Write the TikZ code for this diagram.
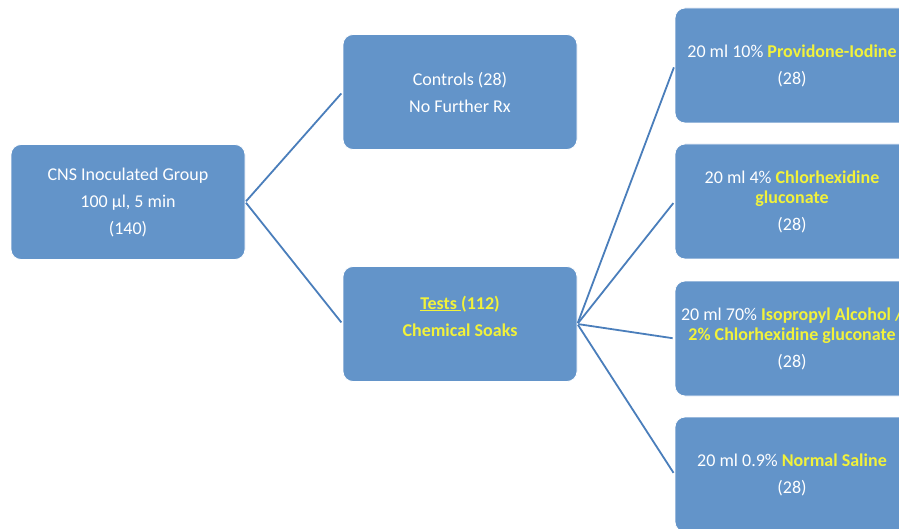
\documentclass[tikz,border=0pt]{standalone}
\usepackage{fontspec}
\setmainfont{Carlito}
\definecolor{boxblue}{HTML}{6394C9}
\definecolor{linkblue}{HTML}{4A7EBB}
\definecolor{hiyellow}{HTML}{F2F23A}
\begin{document}
\begin{tikzpicture}[x=1pt,y=-1pt,
  box/.style={rectangle, rounded corners=10pt, fill=boxblue, draw=white, line width=0.8pt,
    minimum width=234pt, minimum height=115pt, inner sep=0pt, align=center,
    text=white, font=\fontsize{18}{27}\selectfont},
  boxtext/.style={inner sep=0pt, align=center, text=white, font=\fontsize{18}{27}\selectfont},
  link/.style={draw=linkblue, line width=1.8pt, shorten >=2pt, shorten <=1pt}]
\clip (0,0) rectangle (899,529);
\fill[white] (0,0) rectangle (899,529);
\node[box] (root) at (128,202) {CNS Inoculated Group\\100 µl, 5 min\\(140)};
\node[box] (ctrl) at (460,92) {Controls (28)\\No Further Rx};
\node[box] (test) at (460,324) {};
\node[boxtext] (testlabel) at ([yshift=8pt]test.center) {\textcolor{hiyellow}{\textbf{\underline{Tests\ }(112)}}\\\textcolor{hiyellow}{\textbf{Chemical Soaks}}};
\node[box] (r1) at (792,65.5) {20 ml 10\% \textcolor{hiyellow}{\textbf{Providone-Iodine}}\\(28)};
\node[box] (r2) at (792,201.5) {20 ml 4\% \textcolor{hiyellow}{\textbf{Chlorhexidine}}\\[-7pt]\textcolor{hiyellow}{\textbf{gluconate}}\\(28)};
\node[box] (r3) at (792,338.5) {20 ml 70\% \textcolor{hiyellow}{\textbf{Isopropyl Alcohol /}}\\[-7pt]\textcolor{hiyellow}{\textbf{2\% Chlorhexidine gluconate}}\\(28)};
\node[box] (r4) at (792,474.5) {20 ml 0.9\% \textcolor{hiyellow}{\textbf{Normal Saline}}\\(28)};
\draw[link] (root.east) -- (ctrl.west);
\draw[link] (root.east) -- (test.west);
\draw[link] (test.east) -- (r1.west);
\draw[link] (test.east) -- (r2.west);
\draw[link] (test.east) -- (r3.west);
\draw[link] (test.east) -- (r4.west);
\end{tikzpicture}
\end{document}
